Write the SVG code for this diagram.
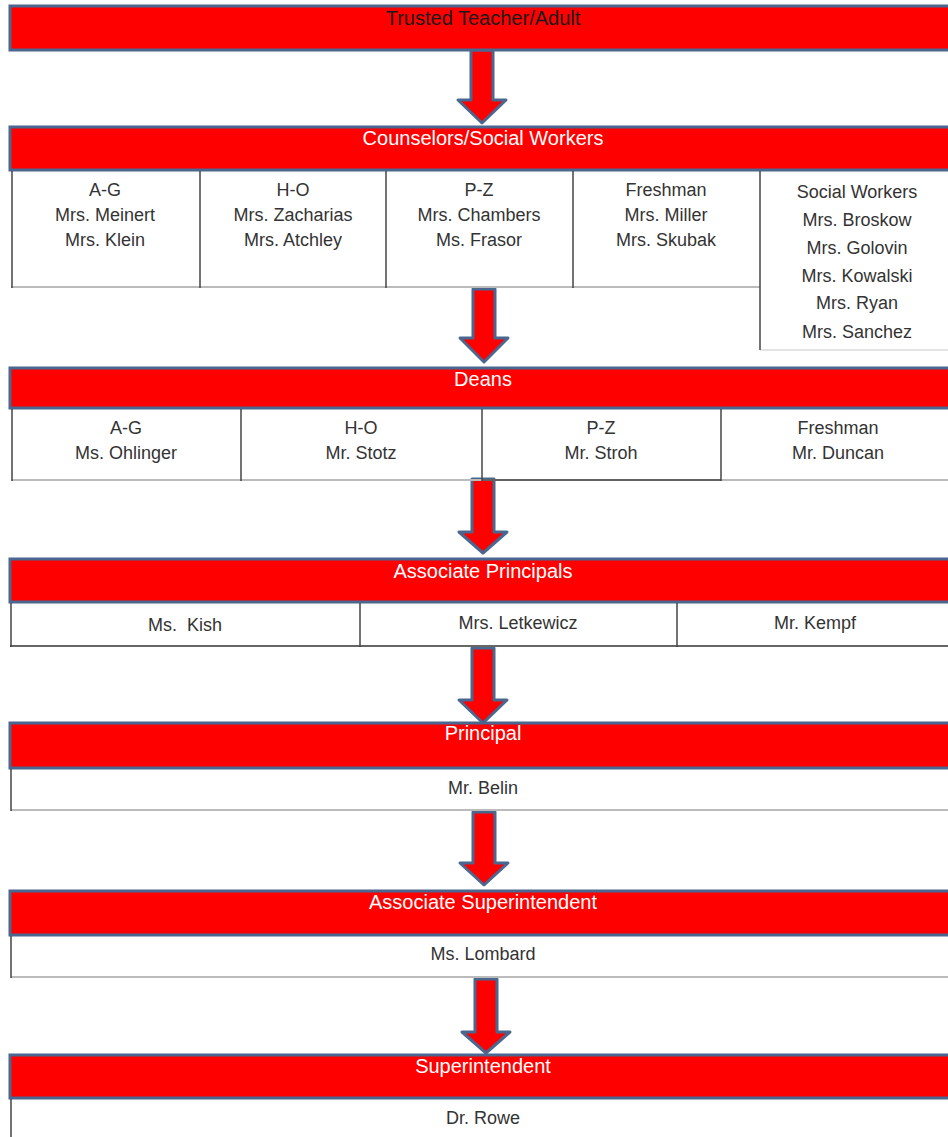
<svg xmlns="http://www.w3.org/2000/svg" width="948" height="1137" viewBox="0 0 948 1137">
<style>
.bar{fill:#ff0000;stroke:#4a6790;stroke-width:3}
.arrow{fill:#ff0000;stroke:#4a6790;stroke-width:3;stroke-linejoin:round}
.hd{font-family:"Liberation Sans",Arial,sans-serif;font-size:20px;fill:#ffffff;text-anchor:middle}
.hdk{font-family:"Liberation Sans",Arial,sans-serif;font-size:20px;fill:#1a1a1a;text-anchor:middle}
.tx{font-family:"Liberation Sans",Arial,sans-serif;font-size:18px;fill:#333333;text-anchor:middle}
.vl{stroke:#444444;stroke-width:1.5;fill:none}
.bl{stroke:#bbbbbb;stroke-width:2;fill:none}
.bd{stroke:#444444;stroke-width:1.5;fill:none}
</style>
<rect width="948" height="1137" fill="#ffffff"/>
<g id="connectors">
<polygon class="arrow" points="471,50 493,50 493,100 506,100 482,123 458,100 471,100"/>
<polygon class="arrow" points="473,289 495,289 495,338 508,338 484,362 460,338 473,338"/>
<polygon class="arrow" points="472,479 494,479 494,532 507,532 483,553 459,532 472,532"/>
<polygon class="arrow" points="472,648 494,648 494,700 507,700 483,723 459,700 472,700"/>
<polygon class="arrow" points="473,812 495,812 495,863 508,863 484,885 460,863 473,863"/>
<polygon class="arrow" points="475,979 497,979 497,1032 510,1032 486,1053 462,1032 475,1032"/>
</g>
<g id="trusted">
<rect class="bar" x="10" y="6" width="945" height="44"/>
<text class="hdk" x="483" y="25">Trusted Teacher/Adult</text>
</g>
<g id="counselors">
<rect class="bar" x="10" y="127" width="945" height="43"/>
<text class="hd" x="483" y="145">Counselors/Social Workers</text>
<line class="bl" x1="11" y1="287" x2="760" y2="287"/>
<line class="bl" x1="760" y1="350" x2="948" y2="350" style="stroke:#e4e4e4"/>
<line class="vl" x1="12" y1="171" x2="12" y2="288"/>
<line class="vl" x1="200" y1="171" x2="200" y2="288"/>
<line class="vl" x1="386" y1="171" x2="386" y2="288"/>
<line class="vl" x1="573" y1="171" x2="573" y2="288"/>
<line class="vl" x1="760" y1="171" x2="760" y2="350"/>
<text class="tx" x="105" y="196">A-G</text>
<text class="tx" x="105" y="221">Mrs. Meinert</text>
<text class="tx" x="105" y="246">Mrs. Klein</text>
<text class="tx" x="293" y="196">H-O</text>
<text class="tx" x="293" y="221">Mrs. Zacharias</text>
<text class="tx" x="293" y="246">Mrs. Atchley</text>
<text class="tx" x="479" y="196">P-Z</text>
<text class="tx" x="479" y="221">Mrs. Chambers</text>
<text class="tx" x="479" y="246">Ms. Frasor</text>
<text class="tx" x="666" y="196">Freshman</text>
<text class="tx" x="666" y="221">Mrs. Miller</text>
<text class="tx" x="666" y="246">Mrs. Skubak</text>
<text class="tx" x="857" y="198">Social Workers</text>
<text class="tx" x="857" y="226">Mrs. Broskow</text>
<text class="tx" x="857" y="254">Mrs. Golovin</text>
<text class="tx" x="857" y="282">Mrs. Kowalski</text>
<text class="tx" x="857" y="309">Mrs. Ryan</text>
<text class="tx" x="857" y="338">Mrs. Sanchez</text>
</g>
<g id="deans">
<rect class="bar" x="10" y="368" width="945" height="40"/>
<text class="hd" x="483" y="386">Deans</text>
<line class="bl" x1="11" y1="480" x2="948" y2="480"/>
<line class="bd" x1="482" y1="480" x2="721" y2="480"/>
<line class="vl" x1="12" y1="409" x2="12" y2="481"/>
<line class="vl" x1="241" y1="409" x2="241" y2="481"/>
<line class="vl" x1="482" y1="409" x2="482" y2="481"/>
<line class="vl" x1="721" y1="409" x2="721" y2="481"/>
<text class="tx" x="126" y="434">A-G</text>
<text class="tx" x="126" y="459">Ms. Ohlinger</text>
<text class="tx" x="361" y="434">H-O</text>
<text class="tx" x="361" y="459">Mr. Stotz</text>
<text class="tx" x="601" y="434">P-Z</text>
<text class="tx" x="601" y="459">Mr. Stroh</text>
<text class="tx" x="838" y="434">Freshman</text>
<text class="tx" x="838" y="459">Mr. Duncan</text>
</g>
<g id="associate-principals">
<rect class="bar" x="10" y="559" width="945" height="43"/>
<text class="hd" x="483" y="578">Associate Principals</text>
<line class="bd" x1="10" y1="646" x2="948" y2="646" style="stroke:#666666;stroke-width:2"/>
<line class="vl" x1="11" y1="603" x2="11" y2="647"/>
<line class="vl" x1="360" y1="603" x2="360" y2="647"/>
<line class="vl" x1="677" y1="603" x2="677" y2="647"/>
<text class="tx" x="185" y="631" xml:space="preserve">Ms.  Kish</text>
<text class="tx" x="518" y="629">Mrs. Letkewicz</text>
<text class="tx" x="815" y="629">Mr. Kempf</text>
</g>
<g id="principal">
<rect class="bar" x="10" y="723" width="945" height="45"/>
<text class="hd" x="483" y="740">Principal</text>
<line class="bl" x1="11" y1="810" x2="948" y2="810"/>
<line class="vl" x1="11" y1="769" x2="11" y2="811"/>
<text class="tx" x="483" y="794">Mr. Belin</text>
</g>
<g id="associate-superintendent">
<rect class="bar" x="10" y="891" width="945" height="44"/>
<text class="hd" x="483" y="909">Associate Superintendent</text>
<line class="bl" x1="11" y1="977" x2="948" y2="977"/>
<line class="vl" x1="11" y1="936" x2="11" y2="978"/>
<text class="tx" x="483" y="960">Ms. Lombard</text>
</g>
<g id="superintendent">
<rect class="bar" x="10" y="1055" width="945" height="43"/>
<text class="hd" x="483" y="1073">Superintendent</text>
<line class="vl" x1="11" y1="1099" x2="11" y2="1137"/>
<text class="tx" x="483" y="1124">Dr. Rowe</text>
</g>
</svg>
